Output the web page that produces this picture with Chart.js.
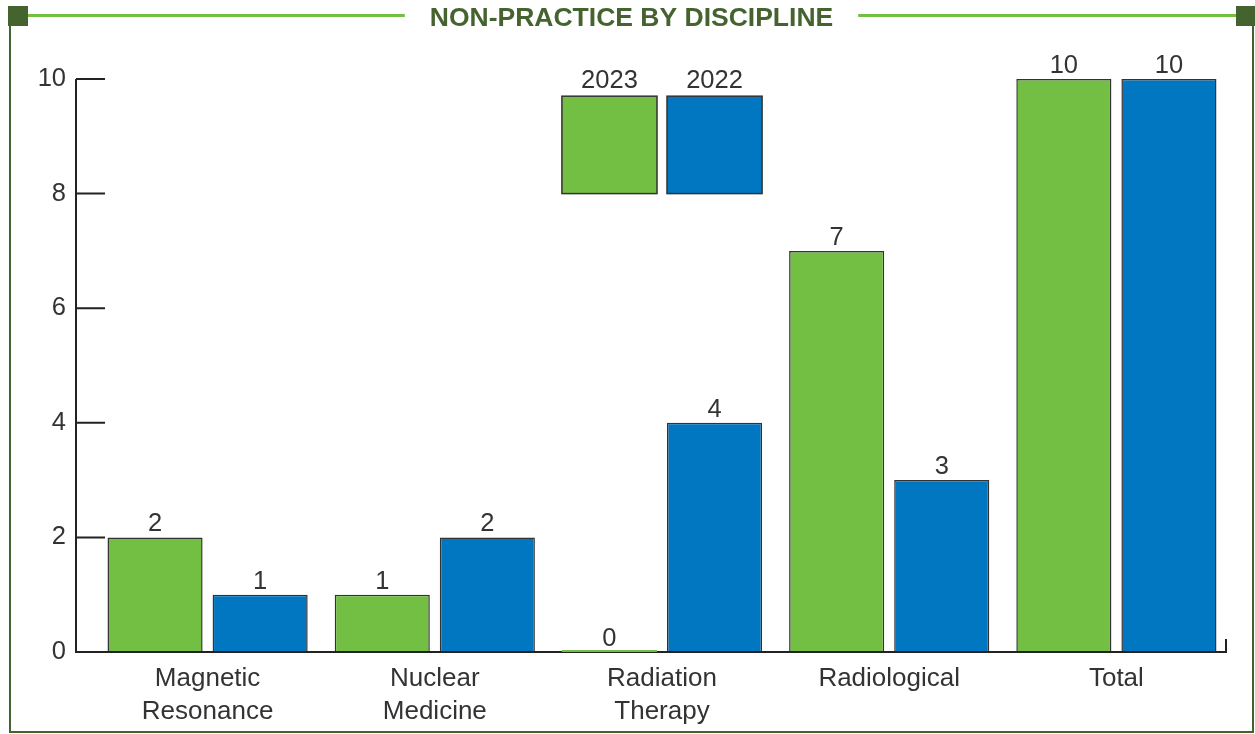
<!DOCTYPE html>
<html>
<head>
<meta charset="utf-8">
<script src="https://cdn.jsdelivr.net/npm/chart.js@4"></script>
<style>
  html, body { margin: 0; padding: 0; background: #fff; }
  #wrap { width: 1255px; height: 734px; position: relative; }
</style>
</head>
<body>
<div id="wrap"><canvas id="chart"></canvas></div>
<script>
// data
const categories = [['Magnetic', 'Resonance'], ['Nuclear', 'Medicine'], ['Radiation', 'Therapy'], 'Radiological', 'Total'];
const values2023 = [2, 1, 0, 7, 10];
const values2022 = [1, 2, 4, 3, 10];
const yTicks = [0, 2, 4, 6, 8, 10];
const chartTitle = 'NON-PRACTICE BY DISCIPLINE';

const GREEN = '#72bf44';
const BLUE = '#0077c0';
const DARK_GREEN = '#45632f';
const INK = '#333333';
const FONT = '"Liberation Sans", Arial, sans-serif';

// frame, axes, value labels and the boxed legend
const decorPlugin = {
  id: 'decor',
  afterDraw(chart) {
    const ctx = chart.ctx;
    const y = chart.scales.y;
    const W = chart.width, H = chart.height;
    ctx.save();

    // frame around the chart, title breaking the top line
    ctx.font = 'bold 26.5px ' + FONT;
    const tw = ctx.measureText(chartTitle).width;
    const cx = 631.5;
    ctx.strokeStyle = DARK_GREEN;
    ctx.lineWidth = 2;
    ctx.beginPath();
    ctx.moveTo(10, 20); ctx.lineTo(10, H - 2);
    ctx.lineTo(W - 2, H - 2); ctx.lineTo(W - 2, 20);
    ctx.stroke();
    ctx.strokeStyle = GREEN;
    ctx.lineWidth = 3;
    ctx.beginPath();
    ctx.moveTo(28, 15.5); ctx.lineTo(cx - tw / 2 - 25, 15.5);
    ctx.moveTo(cx + tw / 2 + 25, 15.5); ctx.lineTo(W - 19, 15.5);
    ctx.stroke();
    ctx.fillStyle = DARK_GREEN;
    ctx.fillRect(8, 6, 20, 20);
    ctx.fillRect(W - 19, 6, 19, 20);
    ctx.textAlign = 'center';
    ctx.textBaseline = 'alphabetic';
    ctx.fillText(chartTitle, cx, 26);

    // axes
    const axisX = 76;
    const y0 = y.getPixelForValue(0);
    const yTop = y.getPixelForValue(10);
    ctx.strokeStyle = '#222';
    ctx.lineWidth = 2;
    ctx.beginPath();
    ctx.moveTo(axisX, yTop); ctx.lineTo(axisX, y0);
    ctx.lineTo(1226, y0); ctx.lineTo(1226, y0 - 13);
    yTicks.forEach(v => {
      const py = y.getPixelForValue(v);
      ctx.moveTo(axisX, py); ctx.lineTo(105, py);
    });
    ctx.stroke();

    // zero-height bars show as a thin coloured line
    chart.data.datasets.forEach((ds, di) => {
      chart.getDatasetMeta(di).data.forEach((bar, i) => {
        if (ds.data[i] === 0) {
          ctx.strokeStyle = ds.backgroundColor;
          ctx.lineWidth = 2;
          ctx.beginPath();
          ctx.moveTo(bar.x - bar.width / 2, y0 - 1);
          ctx.lineTo(bar.x + bar.width / 2, y0 - 1);
          ctx.stroke();
        }
      });
    });

    // value labels
    ctx.font = '25.5px ' + FONT;
    ctx.fillStyle = INK;
    ctx.textAlign = 'center';
    ctx.textBaseline = 'alphabetic';
    chart.data.datasets.forEach((ds, di) => {
      chart.getDatasetMeta(di).data.forEach((bar, i) => {
        ctx.fillText(String(ds.data[i]), bar.x, bar.y - 6);
      });
    });

    // legend boxes sitting over the Radiation Therapy column
    const legTop = y.getPixelForValue(9.7);
    const legBottom = y.getPixelForValue(8);
    chart.data.datasets.forEach((ds, di) => {
      const bar = chart.getDatasetMeta(di).data[2];
      const left = bar.x - bar.width / 2;
      ctx.fillStyle = ds.backgroundColor;
      ctx.fillRect(left, legTop, bar.width, legBottom - legTop);
      ctx.strokeStyle = INK;
      ctx.lineWidth = 1.5;
      ctx.strokeRect(left, legTop, bar.width, legBottom - legTop);
      ctx.fillStyle = INK;
      ctx.fillText(ds.label, bar.x, legTop - 8);
    });
    ctx.restore();
  }
};

new Chart(document.getElementById('chart'), {
  type: 'bar',
  data: {
    labels: categories,
    datasets: [
      { label: '2023', data: values2023, backgroundColor: GREEN, borderColor: INK, borderWidth: 1.5, borderSkipped: 'bottom' },
      { label: '2022', data: values2022, backgroundColor: BLUE, borderColor: INK, borderWidth: 1.5, borderSkipped: 'bottom' }
    ]
  },
  options: {
    responsive: true,
    maintainAspectRatio: false,
    animation: false,
    categoryPercentage: 0.925,
    barPercentage: 0.905,
    layout: { padding: { top: 79, right: 25, bottom: 0, left: 0 } },
    plugins: {
      legend: { display: false },
      tooltip: { enabled: false },
      title: { display: false }
    },
    scales: {
      x: {
        grid: { display: false, drawTicks: false },
        border: { display: false },
        ticks: {
          color: INK,
          padding: 11,
          maxRotation: 0,
          font: { family: FONT, size: 26, lineHeight: 1.24 }
        },
        afterFit: s => { s.height = 82; }
      },
      y: {
        min: 0,
        max: 10,
        grid: { display: false, drawTicks: false },
        border: { display: false },
        ticks: {
          stepSize: 2,
          color: INK,
          padding: 28,
          font: { family: FONT, size: 25.5 }
        },
        afterFit: s => { s.width = 94; }
      }
    }
  },
  plugins: [decorPlugin]
});
</script>
</body>
</html>
